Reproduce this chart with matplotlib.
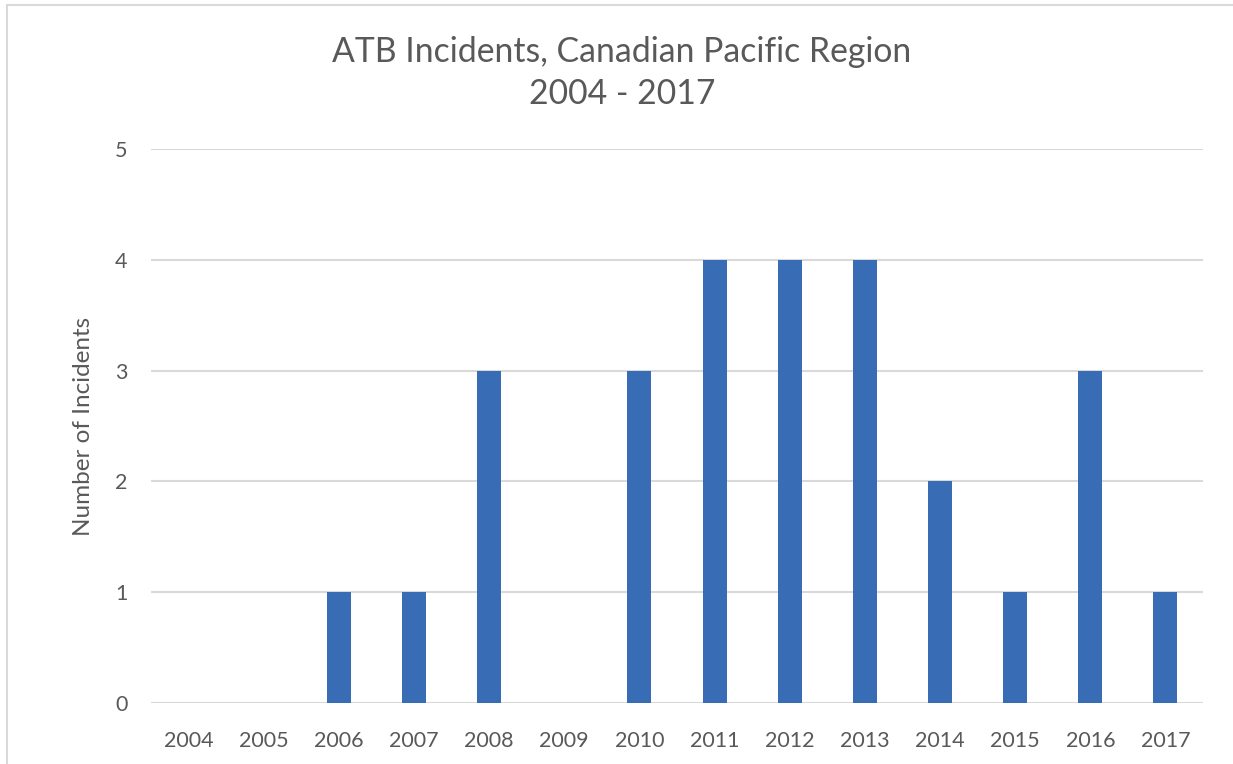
import matplotlib
matplotlib.use("Agg")
import matplotlib.pyplot as plt
from matplotlib.patches import Rectangle

years = ["2004", "2005", "2006", "2007", "2008", "2009", "2010",
         "2011", "2012", "2013", "2014", "2015", "2016", "2017"]
incidents = [0, 0, 1, 1, 3, 0, 3, 4, 4, 4, 2, 1, 3, 1]

plt.rcParams['font.family'] = ['Lato', 'DejaVu Sans']
text_color = '#595959'

fig = plt.figure(figsize=(12.33, 7.64), dpi=100)
# chart border (left and top edges visible)
fig.patches.append(Rectangle((7 / 1233, -0.1), 1.2, 1 - 5 / 764 + 0.1,
                             transform=fig.transFigure, fill=False,
                             edgecolor='#d9d9d9', lw=1.5))

ax = fig.add_axes([151 / 1233, 1 - 703 / 764, (1203 - 151) / 1233, (703 - 149) / 764])
x = range(len(years))
ax.bar(x, incidents, width=0.32, color='#386db5', zorder=3)

ax.set_xlim(-0.5, len(years) - 0.5)
ax.set_ylim(0, 5)
ax.set_yticks(range(6))
ax.set_xticks(list(x))
ax.set_xticklabels(years)
ax.grid(axis='y', color='#d9d9d9', lw=1.5, zorder=0)
for s in ax.spines.values():
    s.set_visible(False)
ax.tick_params(length=0, labelsize=15.5, colors=text_color)
ax.tick_params(axis='x', pad=20)
ax.tick_params(axis='y', pad=17)
ax.set_ylabel("Number of Incidents", fontsize=17.5, color=text_color, labelpad=15)

fig.text(622 / 1233, 1 - 73 / 764, "ATB Incidents, Canadian Pacific Region\n2004 - 2017",
         ha='center', va='center', fontsize=24.3, color=text_color, linespacing=1.4)

fig.savefig("out.png", dpi=100)
